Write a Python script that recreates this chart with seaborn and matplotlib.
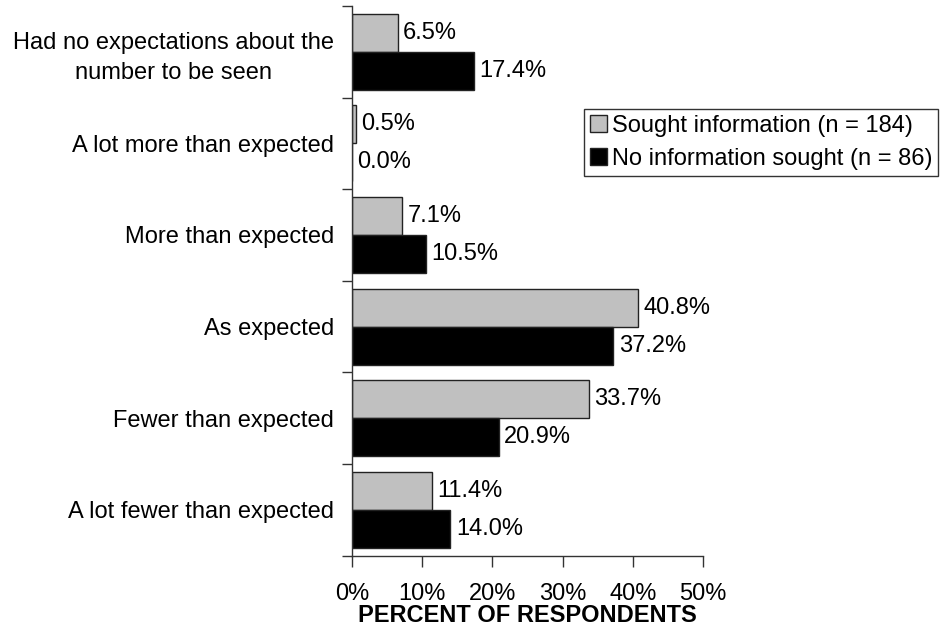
import pandas as pd
import matplotlib
matplotlib.use('Agg')
import matplotlib.pyplot as plt
import seaborn as sns
from matplotlib.ticker import FixedLocator, FuncFormatter

# Data
categories = [
    'Had no expectations about the\nnumber to be seen',
    'A lot more than expected',
    'More than expected',
    'As expected',
    'Fewer than expected',
    'A lot fewer than expected',
]
sought = [6.5, 0.5, 7.1, 40.8, 33.7, 11.4]
not_sought = [17.4, 0.0, 10.5, 37.2, 20.9, 14.0]
series_names = ['Sought information (n = 184)', 'No information sought (n = 86)']

df = pd.DataFrame({
    'category': categories * 2,
    'percent': sought + not_sought,
    'group': [series_names[0]] * len(categories) + [series_names[1]] * len(categories),
})

sns.set_style('white')
plt.rcParams['font.family'] = ['Liberation Sans', 'DejaVu Sans']
plt.rcParams['text.color'] = 'black'
plt.rcParams['xtick.color'] = 'black'
plt.rcParams['ytick.color'] = 'black'
plt.rcParams['axes.labelcolor'] = 'black'
FS = 17

fig = plt.figure(figsize=(9.4, 6.28), dpi=100)
ax = fig.add_axes([352 / 940, 1 - 555.5 / 628, (703 - 352) / 940, (555.5 - 6) / 628])

sns.barplot(data=df, x='percent', y='category', hue='group', orient='h',
            palette=['#c0c0c0', '#000000'], width=0.83, edgecolor='#222222',
            linewidth=1, saturation=1, ax=ax)

for cont in ax.containers:
    ax.bar_label(cont, fmt='%.1f%%', padding=4, fontsize=FS, color='black')

ax.set_xlim(0, 50)
ax.set_ylim(len(categories) - 0.5, -0.5)
ax.set_xticks([0, 10, 20, 30, 40, 50])
ax.xaxis.set_major_formatter(FuncFormatter(lambda v, p: f'{int(v)}%'))
ax.tick_params(axis='x', direction='out', length=8, width=1, color='#333333',
               pad=12, labelsize=FS, bottom=True)
ax.tick_params(axis='y', which='major', length=0, pad=13, labelsize=FS)
ax.yaxis.set_minor_locator(FixedLocator([i - 0.5 for i in range(len(categories) + 1)]))
ax.tick_params(axis='y', which='minor', direction='out', length=7, width=1,
               color='#333333', left=True)
for lbl in ax.get_yticklabels():
    lbl.set_multialignment('center')
    lbl.set_linespacing(1.45)

ax.set_xlabel('PERCENT OF RESPONDENTS', fontsize=FS, fontweight='bold', labelpad=-1)
ax.set_ylabel('')

for side in ['top', 'right']:
    ax.spines[side].set_visible(False)
for side in ['left', 'bottom']:
    ax.spines[side].set_color('#333333')
    ax.spines[side].set_linewidth(1)

handles, labels = ax.get_legend_handles_labels()
ax.legend(handles, labels, loc='upper right', bbox_to_anchor=(938 / 940, 1 - 109 / 628),
          bbox_transform=fig.transFigure, borderaxespad=0, fontsize=FS,
          frameon=True, fancybox=False, edgecolor='#333333', framealpha=1,
          handlelength=0.7, handleheight=0.7, handletextpad=0.2,
          labelspacing=0.46, borderpad=0.25)

fig.savefig('out.png', dpi=100)
